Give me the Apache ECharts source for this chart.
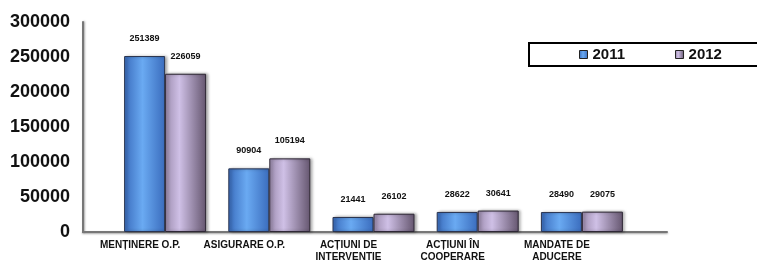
<!DOCTYPE html>
<html>
<head>
<meta charset="utf-8">
<script src="https://cdn.jsdelivr.net/npm/echarts@6/dist/echarts.min.js"></script>
<style>
  html, body { margin: 0; padding: 0; background: #fff; }
  #chart { width: 757px; height: 260px; }
</style>
</head>
<body>
<div id="chart"></div>
<script>
var categories = ['MENȚINERE O.P.', 'ASIGURARE O.P.', 'ACȚIUNI DE\nINTERVENTIE', 'ACȚIUNI ÎN\nCOOPERARE', 'MANDATE DE\nADUCERE'];
var years = ['2011', '2012'];
var values2011 = [251389, 90904, 21441, 28622, 28490];
var values2012 = [226059, 105194, 26102, 30641, 29075];
var yTicks = [0, 50000, 100000, 150000, 200000, 250000, 300000];

var myChart = echarts.init(document.getElementById('chart'));

// cilindri cu gradient orizontal
var blueFill = new echarts.graphic.LinearGradient(0, 0, 1, 0, [
    { offset: 0, color: '#3a6cbd' },
    { offset: 0.45, color: '#6aaaf2' },
    { offset: 1, color: '#3a6cbd' }
]);
var purpleFill = new echarts.graphic.LinearGradient(0, 0, 1, 0, [
    { offset: 0, color: '#9c8cae' },
    { offset: 0.35, color: '#cfc0e6' },
    { offset: 1, color: '#65566f' }
]);

var barLabel = {
    show: true,
    position: 'top',
    distance: 13,
    color: '#111',
    fontFamily: 'Liberation Sans, Arial, sans-serif',
    fontWeight: 'bold',
    fontSize: 9
};

const options = {
    animation: false,
    textStyle: { fontFamily: 'Liberation Sans, Arial, sans-serif' },
    legend: {
        data: years,
        orient: 'horizontal',
        left: 529,
        top: 43,
        width: 400,
        padding: [4, 60, 4, 50],
        itemGap: 50,
        itemWidth: 8,
        itemHeight: 8,
        borderColor: '#000',
        borderWidth: 2,
        icon: 'rect',
        itemStyle: { borderColor: '#222', borderWidth: 1 },
        textStyle: { fontSize: 15, fontWeight: 'bold', color: '#111' }
    },
    grid: [
        { left: 113, right: 123, top: 22, bottom: 28, outerBoundsMode: 'none' },
        { left: 83, right: 90, top: 22, bottom: 28, outerBoundsMode: 'none' }
    ],
    xAxis: [{
        type: 'category',
        gridIndex: 0,
        data: categories,
        axisLine: { show: false },
        axisTick: { show: false },
        axisLabel: {
            interval: 0,
            margin: 7,
            fontSize: 10,
            fontWeight: 'bold',
            color: '#111',
            lineHeight: 12,
            padding: [0, 50, 0, 0]
        }
    }, {
        type: 'value',
        gridIndex: 1,
        min: 0,
        max: 1,
        axisLine: { show: true, lineStyle: { color: '#777', width: 2, shadowColor: 'rgba(0,0,0,0.35)', shadowBlur: 2, shadowOffsetY: 1 } },
        axisTick: { show: false },
        axisLabel: { show: false },
        splitLine: { show: false }
    }],
    yAxis: [{
        type: 'value',
        gridIndex: 0,
        min: yTicks[0],
        max: yTicks[yTicks.length - 1],
        interval: 50000,
        offset: 30,
        axisLine: { show: true, lineStyle: { color: '#777', width: 2, shadowColor: 'rgba(0,0,0,0.35)', shadowBlur: 2, shadowOffsetX: 1 } },
        axisTick: { show: false },
        splitLine: { show: false },
        axisLabel: {
            margin: 13,
            fontSize: 18,
            fontWeight: 'bold',
            color: '#111',
            formatter: function (v) { return String(v); }
        }
    }, {
        type: 'value',
        gridIndex: 1,
        show: false
    }],
    series: [{
        name: years[0],
        type: 'bar',
        data: values2011,
        barWidth: 41,
        barGap: '0%',
        itemStyle: {
            color: blueFill,
            borderColor: '#2b3550',
            borderWidth: 1,
            shadowColor: 'rgba(0,0,0,0.35)',
            shadowBlur: 3,
            shadowOffsetX: 2
        },
        label: barLabel
    }, {
        name: years[1],
        type: 'bar',
        data: values2012,
        barWidth: 41,
        barGap: '0%',
        itemStyle: {
            color: purpleFill,
            borderColor: '#2f2836',
            borderWidth: 1,
            shadowColor: 'rgba(0,0,0,0.35)',
            shadowBlur: 3,
            shadowOffsetX: 2
        },
        label: barLabel
    }]
};
myChart.setOption(options);
window.onresize = function () {
    myChart.resize();
};
</script>
</body>
</html>
